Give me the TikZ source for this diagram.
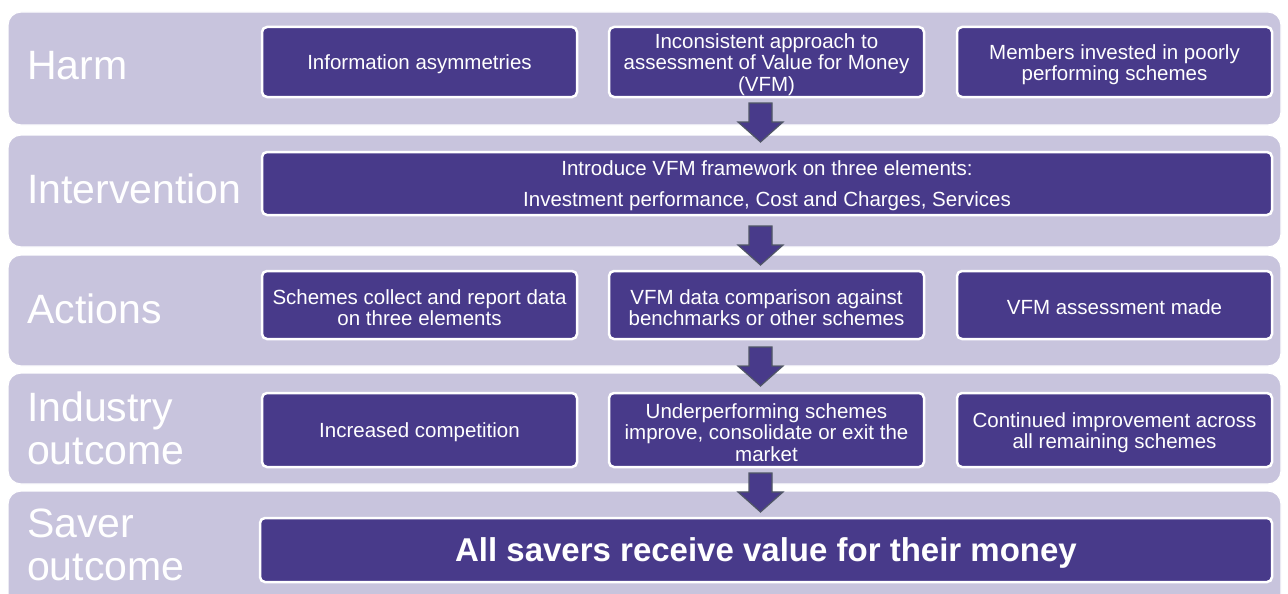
\documentclass[tikz,border=0pt]{standalone}
\usepackage{fontspec}
\setmainfont{Liberation Sans}
\definecolor{bandfill}{RGB}{200,196,221}
\definecolor{boxfill}{RGB}{72,58,138}
\definecolor{arrowline}{RGB}{80,86,102}
\begin{document}
\begin{tikzpicture}[x=1pt,y=-1pt,
  band/.style={fill=bandfill, draw=white, line width=1.2pt, rounded corners=13pt, inner sep=0pt},
  box/.style={fill=boxfill, draw=white, line width=2.5pt, rounded corners=5pt, inner sep=0pt},
  boxtext/.style={text=white, align=center, inner sep=0pt,
    font=\fontsize{20.5}{21.5}\selectfont},
  rowlabel/.style={anchor=west, align=left, text=white, inner sep=0pt,
    font=\fontsize{41}{43}\selectfont},
  downarrow/.style={fill=boxfill, draw=arrowline, line width=1.2pt, line join=miter}
]
\useasboundingbox (0,0) rectangle (1288,594);
\clip (0,0) rectangle (1288,594);

% horizontal bands
\node[band, minimum width=1273pt, minimum height=113pt] (bandA) at (644.5,68.5) {};
\node[band, minimum width=1273pt, minimum height=112pt] (bandB) at (644.5,191) {};
\node[band, minimum width=1273pt, minimum height=111pt] (bandC) at (644.5,310.5) {};
\node[band, minimum width=1273pt, minimum height=111pt] (bandD) at (644.5,428.5) {};
\node[band, minimum width=1273pt, minimum height=118pt] (bandE) at (644.5,550) {};

% row labels
\node[rowlabel] (lblA) at (27,66) {Harm};
\node[rowlabel] (lblB) at (27,189) {Intervention};
\node[rowlabel] (lblC) at (27,309) {Actions};
\node[rowlabel] (lblD) at (27,428) {Industry\\outcome};
\node[rowlabel] (lblE) at (27,545) {Saver\\outcome};

% boxes: name, centre, width, height
\node[box, minimum width=315pt, minimum height=70pt] (h1) at (419.5,62) {};
\node[box, minimum width=315pt, minimum height=70pt] (h2) at (766.5,62) {};
\node[box, minimum width=315pt, minimum height=70pt] (h3) at (1114.5,62) {};
\node[box, minimum width=1010pt, minimum height=63pt] (i1) at (767,183.5) {};
\node[box, minimum width=315pt, minimum height=68pt] (a1) at (419.5,305) {};
\node[box, minimum width=315pt, minimum height=68pt] (a2) at (766.5,305) {};
\node[box, minimum width=315pt, minimum height=68pt] (a3) at (1114.5,305) {};
\node[box, minimum width=315pt, minimum height=74pt] (o1) at (419.5,430) {};
\node[box, minimum width=315pt, minimum height=74pt] (o2) at (766.5,430) {};
\node[box, minimum width=315pt, minimum height=74pt] (o3) at (1114.5,430) {};
\node[box, minimum width=1012pt, minimum height=64pt] (s1) at (766,550) {};

% box texts
\node[boxtext] (h1t) at ([yshift=-2pt]h1.center) {Information asymmetries};
\node[boxtext] (h2t) at ([yshift=-2.5pt]h2.center) {Inconsistent approach to\\assessment of Value for Money\\(VFM)};
\node[boxtext] (h3t) at ([yshift=-2.5pt]h3.center) {Members invested in poorly\\performing schemes};
\node[boxtext] (i1t) at ([yshift=-2.5pt]i1.center) {Introduce VFM framework on three elements:\\[9.5pt]Investment performance, Cost and Charges, Services};
\node[boxtext] (a1t) at ([yshift=-2.5pt]a1.center) {Schemes collect and report data\\on three elements};
\node[boxtext] (a2t) at ([yshift=-2.5pt]a2.center) {VFM data comparison against\\benchmarks or other schemes};
\node[boxtext] (a3t) at ([yshift=-2pt]a3.center) {VFM assessment made};
\node[boxtext] (o1t) at ([yshift=-2pt]o1.center) {Increased competition};
\node[boxtext] (o2t) at ([yshift=-2.5pt]o2.center) {Underperforming schemes\\improve, consolidate or exit the\\market};
\node[boxtext] (o3t) at ([yshift=-2.5pt]o3.center) {Continued improvement across\\all remaining schemes};
\node[boxtext, font=\fontsize{33}{36}\selectfont\bfseries] (s1t) at ([yshift=-3pt]s1.center) {All savers receive value for their money};

% block arrows between the bands
\foreach \t in {103,226,347,473}{
  \draw[downarrow] (749,\t) -- (772,\t) -- (772,\t+19) -- (783,\t+19)
    -- (760.5,\t+39) -- (738,\t+19) -- (749,\t+19) -- cycle;
}
\end{tikzpicture}
\end{document}
